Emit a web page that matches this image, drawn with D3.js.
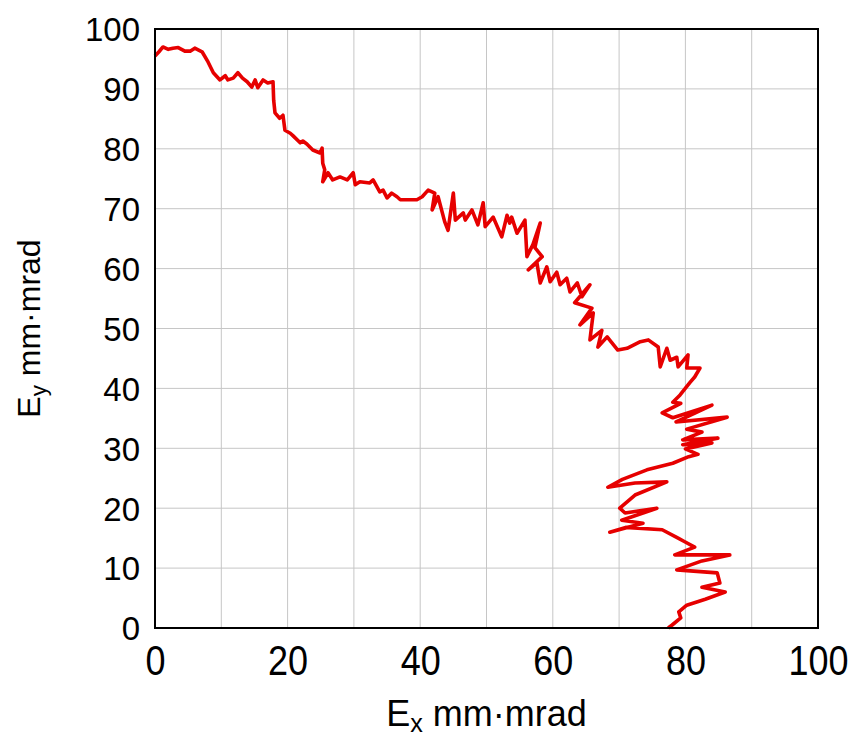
<!DOCTYPE html>
<html>
<head>
<meta charset="utf-8">
<script src="https://cdn.jsdelivr.net/npm/d3@7"></script>
<style>
  html, body { margin: 0; padding: 0; background: #fff; }
  svg { display: block; font-family: "Liberation Sans", Arial, sans-serif; }
</style>
</head>
<body>
<svg id="chart" width="852" height="742"></svg>
<script>
const xTicks = [0, 20, 40, 60, 80, 100];
const yTicks = [0, 10, 20, 30, 40, 50, 60, 70, 80, 90, 100];
const xTitle = ["E", "x", " mm·mrad"];
const yTitle = ["E", "y", " mm·mrad"];

// emittance trace (Ex, Ey)
const ex = [0, 0.6, 1.2, 2, 2.7, 3.5, 4.5, 5.3, 6.0, 7.1, 8.0, 8.8, 9.8, 10.6, 11, 11.8, 12.5, 13.2, 13.9, 14.6,
  15.1, 15.5, 16.3, 17.0, 17.8, 17.9, 18.1, 18.8, 19.3, 19.6, 20.4, 20.8, 21.9, 22.3, 22.9, 23.8, 24.9, 25.2, 25.3, 25.6,
  25.3, 26.1, 26.8, 27.9, 29, 29.9, 30.2, 30.9, 32.4, 32.9, 33.9, 34.4, 35, 35.7, 36.5, 37, 38, 39.5, 40.3, 41.2,
  42.2, 41.8, 42.7, 43.7, 44.2, 45, 45.3, 46.5, 46.8, 47.8, 48.7, 49.5, 49.8, 51, 52.3, 53.1, 53.5, 53.8, 54.6, 55.8,
  56.1, 57, 58.1, 57.3, 58.4, 56.3, 57.6, 58.1, 59.1, 59.6, 60.6, 61.1, 62.1, 62.6, 63.7, 64.4, 65.6, 63.3, 65.9, 64.1,
  66.1, 65.6, 67.4, 66.8, 68.2, 69.8, 71.2, 73.2, 74.4, 75.9, 76.2, 77.2, 77.7, 78.7, 78.9, 80.4, 80.2, 82.2, 81.4, 80.7,
  79.2, 78.1, 79.3, 76.5, 78.1, 84, 78.6, 86.3, 80.2, 82.5, 79.6, 84.9, 79.6, 84, 80, 81.9, 80.5, 78.1, 74.2, 70.5,
  68.3, 72.4, 77.2, 72.4, 70.1, 70.9, 75.7, 70.4, 73.6, 68.6, 71, 76.5, 78.9, 79.9, 81.4, 78.4, 86.7, 82.5, 78.7, 84.8,
  85.2, 82.5, 86, 83, 80.2, 79, 79.3, 78, 77.4];
const ey = [95.5, 96.2, 97, 96.6, 96.8, 96.9, 96.3, 96.3, 96.8, 96.2, 94.5, 92.7, 91.5, 92.2, 91.5, 91.8, 92.7, 91.8, 91.2, 90.3,
  91.5, 90.2, 91.5, 91.0, 91.2, 88.1, 86, 85.1, 85.6, 83.1, 82.6, 82.2, 81, 81.3, 80.8, 79.8, 79.3, 80.1, 77.6, 76.5,
  74.5, 76, 74.8, 75.3, 74.8, 76, 74, 74.5, 74.3, 74.8, 72.8, 73.1, 71.8, 72.6, 72, 71.5, 71.5, 71.5, 72, 73.1,
  72.6, 69.8, 72, 67.8, 66.4, 72.6, 68.1, 69.3, 68.1, 69.8, 67.3, 71, 67, 68.6, 65.3, 68.9, 67.6, 68.6, 65.9, 68.1,
  62, 64, 67.6, 63.5, 62, 59.8, 61, 57.6, 60.3, 57.8, 59.4, 57.3, 58.4, 56.1, 57.6, 55.3, 57.3, 54.3, 53.4, 50.6,
  52.6, 48.1, 49.7, 46.9, 48.6, 46.4, 46.7, 47.8, 48.1, 46.9, 43.6, 46.7, 44.7, 45.2, 43.6, 45.6, 43.4, 43.4, 41.9, 41,
  38.9, 37.7, 37.5, 35.9, 35.1, 37.2, 34.4, 35.2, 33.2, 32.7, 31.4, 31.7, 30.6, 30.9, 29.9, 29, 28.6, 27.5, 26.4, 24.8,
  23.5, 24.2, 24.4, 22.2, 20, 19.2, 20, 18, 17.5, 16, 16.8, 16.4, 15, 14.4, 13.5, 12.2, 12.2, 11.2, 9.7, 9.2,
  7.5, 6.8, 6, 4.8, 3.8, 2.7, 1.7, 0.5, 0];

const svg = d3.select("#chart");
const margin = { top: 29, right: 34, bottom: 114, left: 155 };
const w = 852 - margin.left - margin.right, h = 742 - margin.top - margin.bottom;

const x = d3.scaleLinear().domain([0, 100]).range([0, w]);
const y = d3.scaleLinear().domain([0, 100]).range([h, 0]);

const g = svg.append("g").attr("transform", `translate(${margin.left},${margin.top})`);

// grid every 10
g.append("g").selectAll("line").data(d3.range(10, 100, 10)).enter().append("line")
  .attr("x1", d => x(d)).attr("x2", d => x(d)).attr("y1", 0).attr("y2", h)
  .attr("stroke", "#c6c6c6").attr("stroke-width", 1);
g.append("g").selectAll("line").data(d3.range(10, 100, 10)).enter().append("line")
  .attr("y1", d => y(d)).attr("y2", d => y(d)).attr("x1", 0).attr("x2", w)
  .attr("stroke", "#c6c6c6").attr("stroke-width", 1);

const pts = ex.map((v, i) => ({ x: v, y: ey[i] }));
const line = d3.line().x(d => x(d.x)).y(d => y(d.y));
g.append("path").datum(pts).attr("fill", "none").attr("stroke", "#e60000")
  .attr("stroke-width", 3.6).attr("stroke-linejoin", "round").attr("d", line);

g.append("rect").attr("width", w).attr("height", h).attr("fill", "none")
  .attr("stroke", "#000").attr("stroke-width", 2);

const xAxis = g.append("g").attr("transform", `translate(0,${h})`)
  .call(d3.axisBottom(x).tickValues(xTicks).tickSize(0).tickPadding(0));
xAxis.select(".domain").remove();
xAxis.selectAll("text").attr("font-size", 36).attr("fill", "#000").attr("dy", null).attr("y", 0)
  .attr("font-family", "Liberation Sans, Arial, sans-serif")
  .attr("transform", "translate(0,47) scale(1,1.2)");

const yAxis = g.append("g")
  .call(d3.axisLeft(y).tickValues(yTicks).tickSize(0).tickPadding(15));
yAxis.select(".domain").remove();
yAxis.selectAll("text").attr("font-size", 33).attr("fill", "#000")
  .attr("font-family", "Liberation Sans, Arial, sans-serif").attr("dy", "0.36em");

function title(sel, parts, size) {
  sel.append("tspan").text(parts[0]);
  sel.append("tspan").text(parts[1]).attr("font-size", size * 0.7).attr("dy", size * 0.18);
  sel.append("tspan").text(parts[2]).attr("dy", -size * 0.18);
}

const xt = svg.append("text").attr("x", margin.left + w / 2).attr("y", 726)
  .attr("text-anchor", "middle").attr("font-size", 36).attr("fill", "#000");
title(xt, xTitle, 36);

const yt = svg.append("text").attr("transform", `translate(40,${margin.top + h / 2}) rotate(-90)`)
  .attr("text-anchor", "middle").attr("font-size", 32).attr("fill", "#000");
title(yt, yTitle, 32);
</script>
</body>
</html>
